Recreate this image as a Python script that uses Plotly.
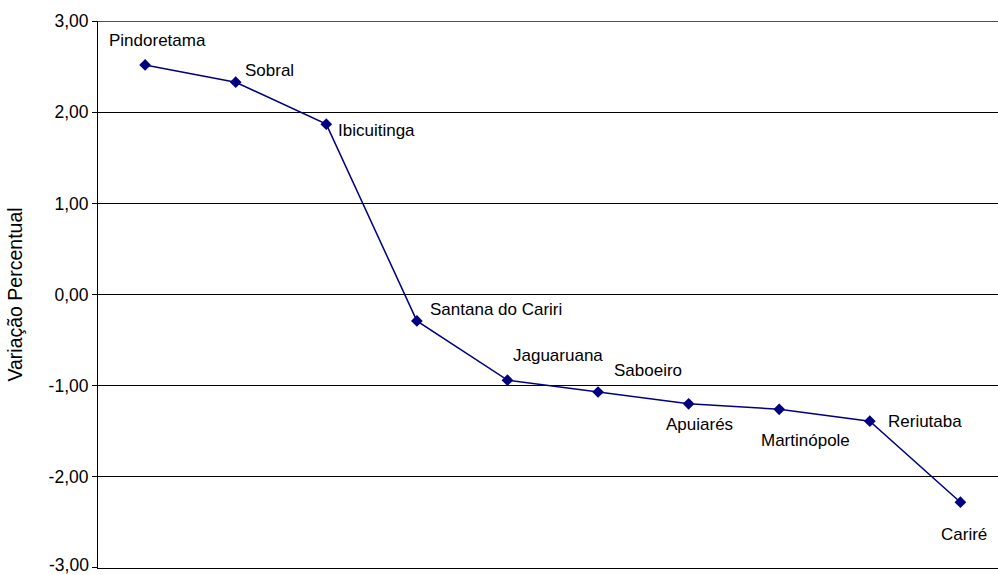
import plotly.graph_objects as go

# Municípios e variação percentual
municipios = ["Pindoretama", "Sobral", "Ibicuitinga", "Santana do Cariri", "Jaguaruana",
              "Saboeiro", "Apuiarés", "Martinópole", "Reriutaba", "Cariré"]
variacao = [2.52, 2.33, 1.87, -0.29, -0.94, -1.07, -1.20, -1.26, -1.39, -2.28]

# Posição de cada rótulo em relação ao ponto: (xanchor, deslocamento x, deslocamento y)
label_pos = [
    ("center", 12, 24),
    ("left", 7, 12),
    ("left", 10, -6),
    ("left", 11, 11),
    ("left", 4, 25),
    ("left", 14, 21),
    ("center", 11, -21),
    ("center", 26, -31),
    ("left", 16, 0),
    ("center", 4, -32),
]

y_ticks = [-3, -2, -1, 0, 1, 2, 3]
y_tick_text = [f"{v:.2f}".replace(".", ",") for v in y_ticks]

FONT = "Liberation Sans, Arial, sans-serif"
TICK_SIZE = 17.5
idx = list(range(len(municipios)))

fig = go.Figure()
fig.add_trace(go.Scatter(
    x=idx, y=variacao, mode="lines+markers",
    line=dict(color="#000080", width=1.5),
    marker=dict(symbol="diamond", size=9, color="#000080"),
    hoverinfo="text", hovertext=municipios,
))

for i, (nome, v, (anc, dx, dy)) in enumerate(zip(municipios, variacao, label_pos)):
    fig.add_annotation(
        x=i, y=v, text=nome, showarrow=False,
        xanchor=anc, yanchor="middle", xshift=dx, yshift=dy,
        font=dict(family=FONT, size=17, color="#000000"),
    )

# rótulo do limite inferior do eixo, que fica junto à borda da figura
fig.add_annotation(
    xref="paper", yref="y", x=0, y=y_ticks[0], text=y_tick_text[0], showarrow=False,
    xanchor="right", yanchor="middle", xshift=-8, yshift=3, borderpad=0,
    font=dict(family=FONT, size=TICK_SIZE, color="#000000"),
)

# linha superior da área de plotagem (em 3,00)
fig.add_shape(type="line", xref="paper", yref="y", x0=0, x1=1, y0=3, y1=3,
              line=dict(color="#000000", width=1))

fig.update_layout(
    width=998, height=575,
    margin=dict(l=98, r=0, t=21, b=7),
    paper_bgcolor="white", plot_bgcolor="white",
    showlegend=False,
    font=dict(family=FONT, size=17, color="#000000"),
)
fig.update_xaxes(
    range=[-0.52, 9.415], showticklabels=False, showgrid=False, zeroline=False,
    showline=True, linecolor="#000000", linewidth=1, ticks="",
)
fig.update_yaxes(
    range=[-3.002, 3.002], tickvals=y_ticks, ticktext=y_tick_text,
    showgrid=True, gridcolor="#000000", gridwidth=1, zeroline=False,
    showline=True, linecolor="#000000", linewidth=1,
    ticks="outside", ticklen=5, tickcolor="#000000",
    tickfont=dict(family=FONT, size=TICK_SIZE),
    title=dict(text="Variação Percentual", standoff=20,
               font=dict(family=FONT, size=19.5)),
)

fig.write_html("out.html")
